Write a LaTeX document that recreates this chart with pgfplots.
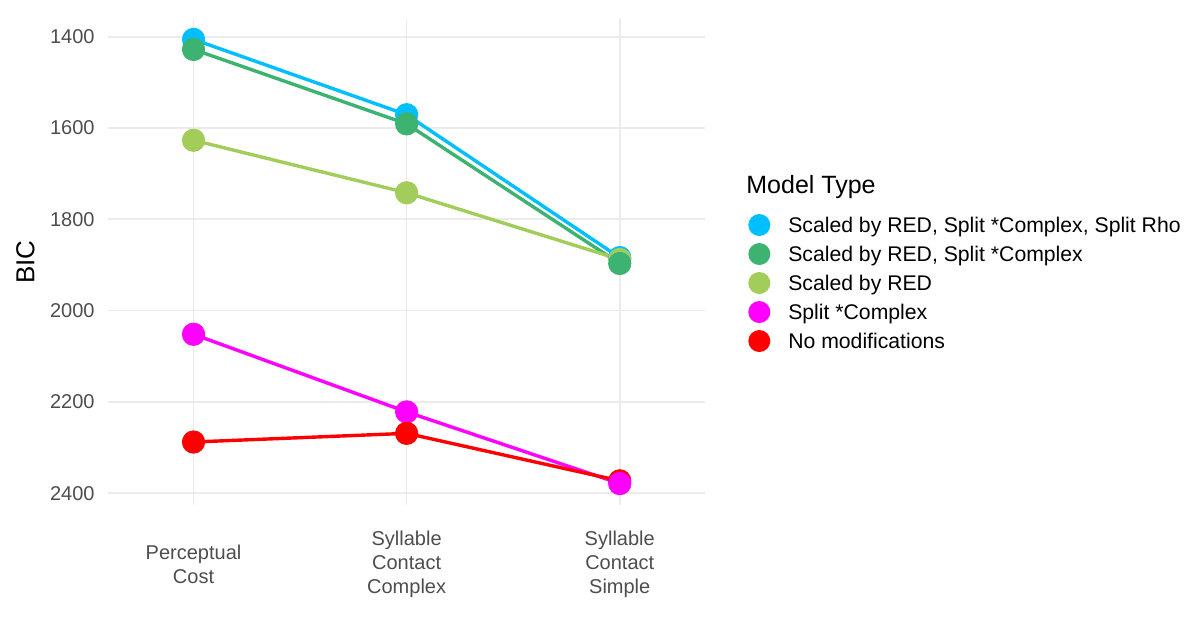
\documentclass[border=0pt]{standalone}
\usepackage{fontspec}
\setmainfont{Liberation Sans}
\usepackage{pgfplots}
\pgfplotsset{compat=1.18}
\definecolor{cblue}{HTML}{00BFFF}
\definecolor{cgreen}{HTML}{3CB371}
\definecolor{clgreen}{HTML}{A2CD5A}
\definecolor{cmag}{HTML}{FF00FF}
\definecolor{cred}{HTML}{FF0000}
\definecolor{gridc}{HTML}{EBEBEB}
\definecolor{tickc}{HTML}{4D4D4D}
\begin{document}
\begin{tikzpicture}
\path[use as bounding box] (0,0) rectangle (600pt,309pt);
\begin{axis}[
  at={(54.15pt,56.5pt)}, anchor=south west,
  scale only axis, width=298.35pt, height=242.85pt,
  xmin=0.6, xmax=3.4, ymin=1362, ymax=2426, y dir=reverse,
  xtick={1,2,3},
  xticklabels={Perceptual\\Cost, Syllable\\Contact\\Complex, Syllable\\Contact\\Simple},
  ytick={1400,1600,...,2400},
  /pgf/number format/assume math mode=true,
  /pgf/number format/1000 sep={},
  grid=major, major grid style={draw=gridc, line width=0.85pt},
  axis line style={draw=none}, tick style={draw=none},
  xticklabel style={font=\fontsize{10}{11.9}\selectfont, text=tickc, align=center, anchor=center, inner sep=0pt, yshift=-29.75pt},
  yticklabel style={font=\fontsize{10}{12}\selectfont, text=tickc, inner sep=0pt, xshift=-6.65pt},
  ylabel={BIC},
  every axis y label/.style={at={(rel axis cs:-0.1388,0.5)}, rotate=90, anchor=center, font=\fontsize{13}{15}\selectfont},
  legend style={at={(1.0726,0.5991)}, anchor=north west, draw=none, fill=none, inner sep=0pt, outer sep=0pt,
    row sep=3.5pt, column sep=9pt, nodes={inner sep=0pt, font=\fontsize{10.6}{12.7}\selectfont},
    cells={anchor=base west}},
  legend image code/.code={\fill[#1, draw=none] (5.5pt,3.6pt) circle[radius=5.5pt];},
  ln/.style={line width=1.7pt, forget plot},
  mk/.style={only marks, mark=*, mark size=5.6pt, mark options={draw=none}, forget plot},
  clip=false,
]
% lines
\addplot[cblue, ln] coordinates {(1,1406) (2,1571) (3,1884)};
\addplot[cgreen, ln] coordinates {(1,1428) (2,1591) (3,1897)};
\addplot[clgreen, ln] coordinates {(1,1627) (2,1742) (3,1888)};
\addplot[cmag, ln] coordinates {(1,2052) (2,2222) (3,2379)};
\addplot[cred, ln] coordinates {(1,2288) (2,2269) (3,2373)};
% points, categories 1 and 2
\addplot[cblue, mk] coordinates {(1,1406) (2,1571)};
\addplot[cgreen, mk] coordinates {(1,1428) (2,1591)};
\addplot[clgreen, mk] coordinates {(1,1627) (2,1742)};
\addplot[cmag, mk] coordinates {(1,2052) (2,2222)};
\addplot[cred, mk] coordinates {(1,2288) (2,2269)};
% points, category 3
\addplot[cblue, mk] coordinates {(3,1884)};
\addplot[clgreen, mk] coordinates {(3,1888)};
\addplot[cgreen, mk] coordinates {(3,1897)};
\addplot[cred, mk] coordinates {(3,2373)};
\addplot[cmag, mk] coordinates {(3,2379)};
% legend
\addlegendimage{fill=cblue}
\addlegendentry{Scaled by RED, Split *Complex, Split Rho}
\addlegendimage{fill=cgreen}
\addlegendentry{Scaled by RED, Split *Complex}
\addlegendimage{fill=clgreen}
\addlegendentry{Scaled by RED}
\addlegendimage{fill=cmag}
\addlegendentry{Split *Complex}
\addlegendimage{fill=cred}
\addlegendentry{No modifications}
\end{axis}
\node[anchor=base west, inner sep=0pt, font=\fontsize{12.5}{15}\selectfont] at (373pt,212.35pt) {Model Type};
\end{tikzpicture}
\end{document}
